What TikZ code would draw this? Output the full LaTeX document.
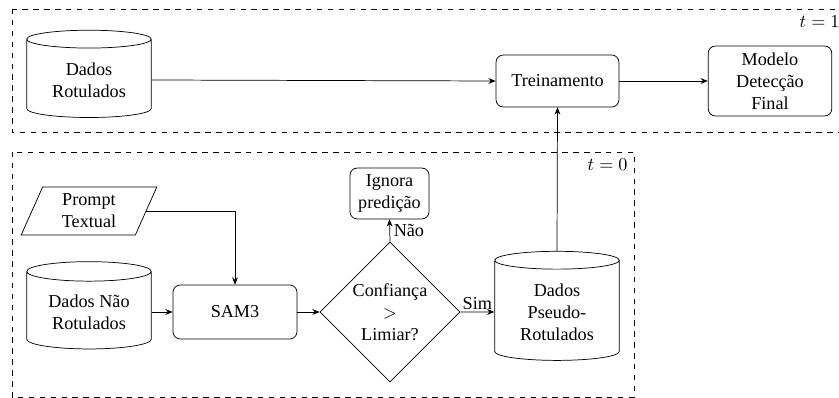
\documentclass[tikz,border=0pt]{standalone}
\usepackage{fontspec}
\setmainfont{Liberation Serif}
\usetikzlibrary{shapes.geometric,arrows.meta}
\begin{document}
\begin{tikzpicture}[x=0.55pt,y=-0.55pt,
  font=\fontsize{10}{12}\selectfont,
  db/.style={draw, cylinder, shape border rotate=90, aspect=0.22, align=center,
    minimum width=68.5pt, minimum height=48pt, inner sep=2pt},
  box/.style={draw, rounded corners=4pt, align=center},
  arr/.style={-{Stealth[length=4pt,width=3.2pt]}},
  frame/.style={draw, dashed}]
\useasboundingbox (0,0) rectangle (839,398);
\draw[frame] (12,9) rectangle (846,132);
\draw[frame] (12,152) rectangle (634,397);
\node[anchor=north east] (t1) at (846,9) {$t=1$};
\node[anchor=north east] (t0) at (634,152) {$t=0$};

\node[db] (dr) at (89,80) {Dados\\Rotulados};
\node[box, minimum width=67.6pt, minimum height=28.6pt] (tr) at (557.5,81) {Treinamento};
\node[box, minimum width=68pt, minimum height=38.5pt, inner sep=1pt] (mod) at (770,81) {Modelo\\Detecção\\Final};

\node[draw, trapezium, trapezium left angle=70, trapezium right angle=110, trapezium stretches=true,
  align=center, minimum width=74.8pt, minimum height=26.4pt, inner sep=0.5pt] (pr) at (89,211) {Prompt\\Textual};
\node[db] (dn) at (89,312) {Dados Não\\Rotulados};
\node[box, minimum width=68.2pt, minimum height=29.7pt] (sam) at (235,312) {SAM3};
\node[draw, diamond, aspect=1, align=center, inner sep=0pt, minimum size=77pt] (dia) at (390,312) {Confiança\\$>$\\Limiar?};
\node[box, minimum width=43.5pt, minimum height=28pt, inner sep=1pt] (ign) at (389.5,193.5) {Ignora\\predição};
\node[db, minimum height=60pt] (ps) at (557,312) {Dados\\Pseudo-\\Rotulados};

\draw[arr] (dr.east) -- (tr.west);
\draw[arr] (tr) -- (mod);
\draw[arr] (ps.north) -- (tr.south);
\draw[arr] (pr.east) -| (sam.north);
\draw[arr] (dn) -- (sam);
\draw[arr] (sam) -- (dia);
\draw[arr] (dia) -- node[above, inner sep=1pt] {Sim} (ps);
\draw[arr] (dia.north) -- node[right, inner sep=2pt] {Não} (ign.south);
\end{tikzpicture}
\end{document}
